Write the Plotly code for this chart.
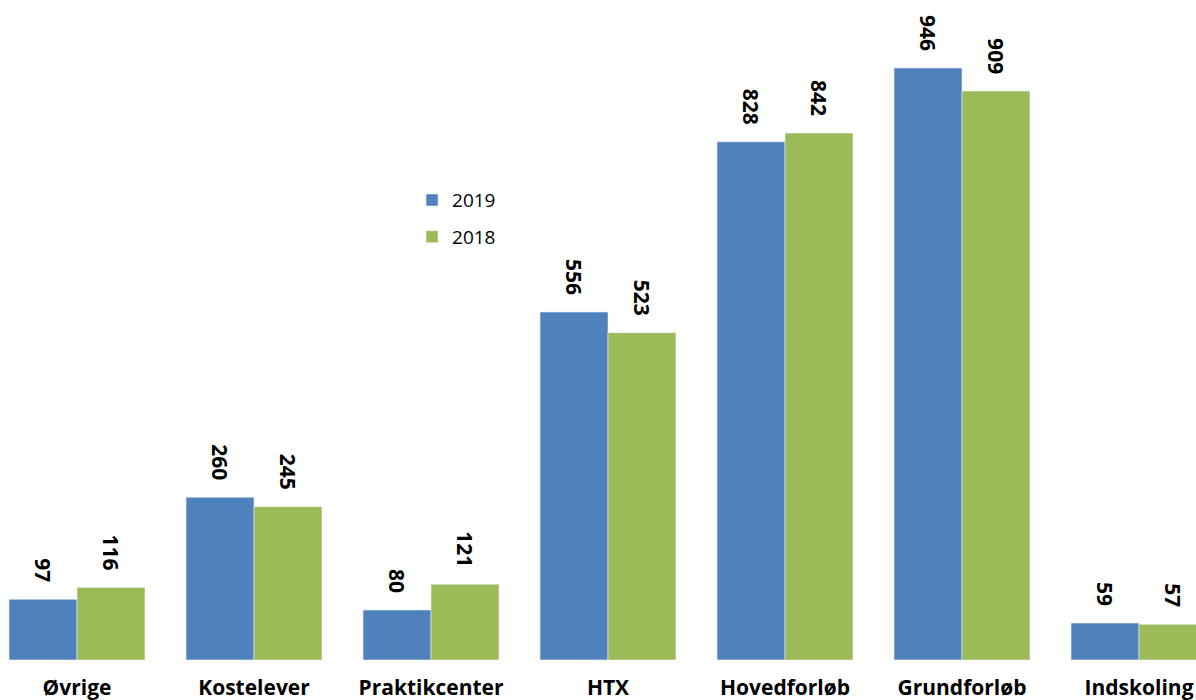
import plotly.graph_objects as go

categories = ["Øvrige", "Kostelever", "Praktikcenter", "HTX", "Hovedforløb", "Grundforløb", "Indskoling"]
values_2019 = [97, 260, 80, 556, 828, 946, 59]
values_2018 = [116, 245, 121, 523, 842, 909, 57]

blue = "#4F81BD"
green = "#9BBB59"
font_family = "Open Sans, DejaVu Sans, sans-serif"

fig = go.Figure()
series = [("2019", values_2019, blue, -34), ("2018", values_2018, green, 34)]
for name, vals, col, _ in series:
    fig.add_trace(go.Bar(
        x=categories, y=vals, name=name, legendgroup=name,
        marker=dict(color=col, line=dict(color="#e8eef7", width=0.6)),
        cliponaxis=True,
    ))

annotations = []
for name, vals, col, shift in series:
    for c, v in zip(categories, vals):
        annotations.append(dict(
            x=c, y=v, xref="x", yref="y", text=str(v), showarrow=False,
            textangle=90, xanchor="center", yanchor="bottom",
            xshift=shift, yshift=15,
            font=dict(family=font_family, size=21, color="black", weight="bold"),
        ))

fig.update_layout(
    width=1196, height=700,
    margin=dict(l=0, r=0, t=0, b=40, autoexpand=False),
    plot_bgcolor="white", paper_bgcolor="white",
    barmode="group", bargap=0.232, bargroupgap=0,
    font=dict(family=font_family, color="black"),
    showlegend=True,
    legend=dict(x=0.3445, y=0.7255, xanchor="left", yanchor="top",
                font=dict(size=19, color="black"), tracegroupgap=9,
                bgcolor="rgba(0,0,0,0)"),
    xaxis=dict(range=[-0.435, 6.322], showline=False, showgrid=False,
               automargin=False,
               ticks="outside", ticklen=9, tickcolor="white",
               tickfont=dict(size=21, color="black", weight="bold")),
    yaxis=dict(range=[0, 1054.6], visible=False, showgrid=False, automargin=False),
    annotations=annotations,
)

fig.write_html(
    "out.html",
    config={"displayModeBar": False},
    post_script="document.body.style.margin='0';document.body.style.overflow='hidden';",
)
